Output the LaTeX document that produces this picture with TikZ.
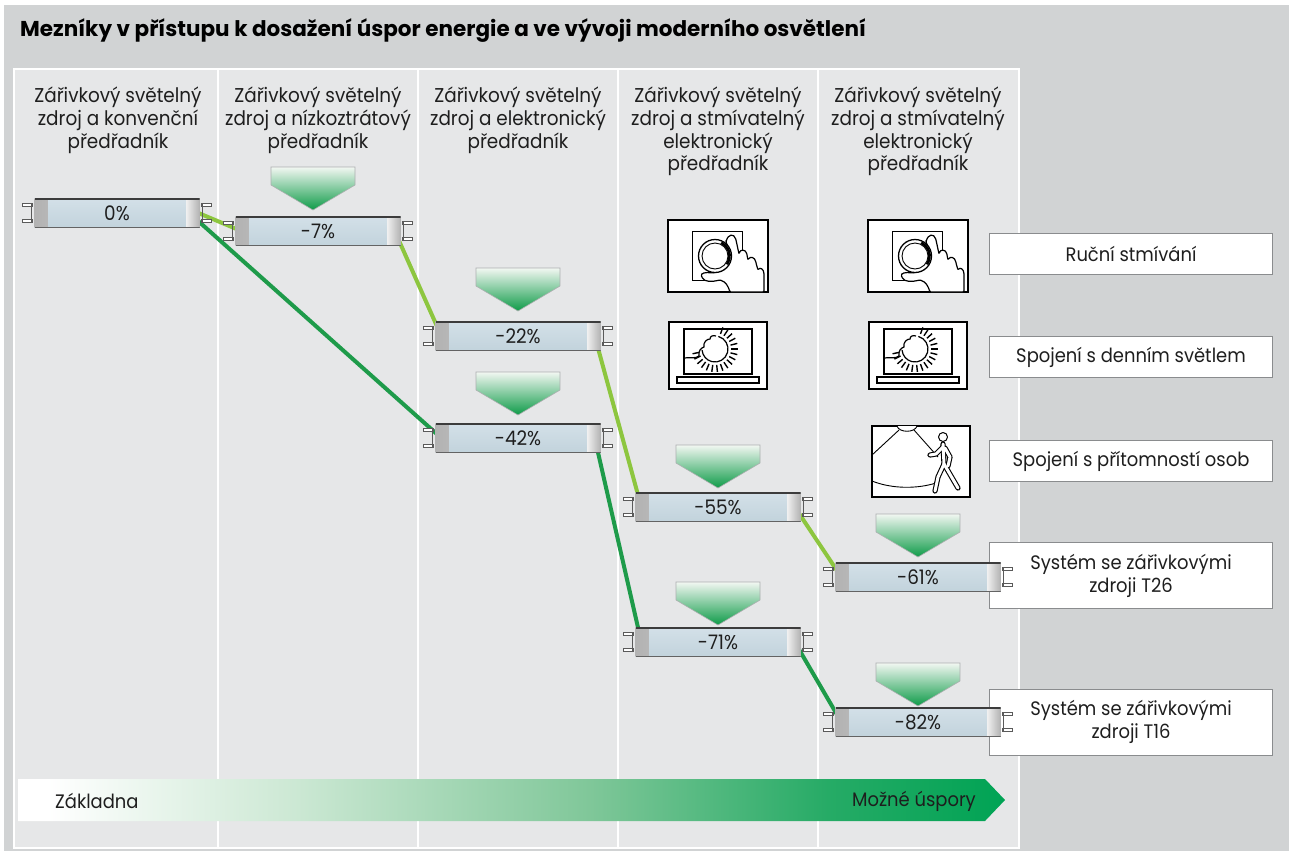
\documentclass[tikz,border=0pt]{standalone}
\usepackage{fontspec}
\setmainfont{Poppins}[FakeStretch=0.92]
\newfontfamily\titlefont{Poppins}[FakeStretch=1.0]
\usetikzlibrary{calc}
\pgfdeclarelayer{back}
\pgfdeclarelayer{lines}
\pgfsetlayers{back,lines,main}

\definecolor{outgray}{HTML}{D1D3D4}
\definecolor{panelgray}{HTML}{E6E7E8}
\definecolor{lgreen}{HTML}{8DC63F}
\definecolor{dgreen}{HTML}{1E9B4A}
\definecolor{tubeA}{HTML}{D3E0E8}
\definecolor{tubeB}{HTML}{F4F8FA}
\definecolor{tubeC}{HTML}{C2D3DC}
\definecolor{capdark}{HTML}{B2B2B2}
\definecolor{caplight}{HTML}{EEEEEE}
\definecolor{tubeedge}{HTML}{3C3C3C}
\definecolor{pincol}{HTML}{5A5A5A}
\definecolor{markA}{HTML}{F2F7F2}
\definecolor{markB}{HTML}{0E9B48}
\definecolor{boxedge}{HTML}{8A8C8E}
\definecolor{txt}{HTML}{1E1E1E}

\pgfdeclarehorizontalshading{savingsbar}{100bp}{%
 rgb(0bp)=(1,1,1); rgb(25bp)=(1,1,1); rgb(26.5bp)=(1,1,1);
 rgb(39bp)=(0.80,0.91,0.83); rgb(54bp)=(0.50,0.78,0.60);
 rgb(66bp)=(0.15,0.67,0.40); rgb(75bp)=(0,0.64,0.33); rgb(100bp)=(0,0.64,0.33)}

\newcommand{\hdrfont}{\fontsize{20}{22.7}\selectfont}
\newcommand{\lblfont}{\fontsize{19.5}{23}\selectfont}

\tikzset{
  tube/.style={rectangle, minimum width=165pt, minimum height=29pt, inner sep=0pt,
    top color=tubeA, middle color=tubeB, bottom color=tubeC, text=txt,
    font=\fontsize{20}{22}\selectfont,
    path picture={
      \fill[left color=capdark, right color=caplight]
        (path picture bounding box.north west) rectangle
        ([xshift=13pt]path picture bounding box.south west);
      \fill[left color=caplight, right color=capdark]
        ([xshift=-13pt]path picture bounding box.north east) rectangle
        (path picture bounding box.south east);
      \draw[tubeedge, line width=2pt]
        (path picture bounding box.north west) -- (path picture bounding box.north east);
      \draw[tubeedge!80, line width=1.6pt]
        (path picture bounding box.south west) -- (path picture bounding box.south east);
    }},
  pinbox/.style={fill=white, draw=pincol, line width=0.8pt},
  pinbase/.style={draw=pincol, line width=1.2pt},
  lightline/.style={lgreen, line width=4pt},
  darkline/.style={dgreen, line width=4pt},
  savemark/.style={top color=markA, bottom color=markB, draw=boxedge!70, line width=0.6pt},
  hdr/.style={anchor=north, align=center, text=txt, font=\hdrfont, inner sep=0pt},
  infobox/.style={rectangle, fill=white, draw=boxedge, line width=1pt,
    minimum width=283pt, align=center, text=txt, font=\lblfont},
  icon/.style={draw=black, line width=1.6pt, fill=white},
  iconthin/.style={draw=black, line width=0.9pt},
}

% a fluorescent tube with its two pin pairs
\newcommand{\lamp}[3]{%
  \node[tube] (#1) at (#2) {#3};
  \foreach \s in {-8,8}{%
    \draw[pinbox] ([yshift=\s pt-1.6pt,xshift=-2pt]#1.west) rectangle ([yshift=\s pt+1.6pt,xshift=-12pt]#1.west);
    \draw[pinbox] ([yshift=\s pt-1.6pt,xshift=2pt]#1.east) rectangle ([yshift=\s pt+1.6pt,xshift=12pt]#1.east);
  }
  \draw[pinbase] ([xshift=-2.5pt,yshift=-10pt]#1.west) -- ([xshift=-2.5pt,yshift=10pt]#1.west);
  \draw[pinbase] ([xshift=2.5pt,yshift=-10pt]#1.east) -- ([xshift=2.5pt,yshift=10pt]#1.east);
}

% green downward marker: centre x, top y
\newcommand{\savingmark}[2]{%
  \path[savemark] (#1-42,#2) -- (#1+42,#2) -- (#1+42,#2+18) -- (#1,#2+43) -- (#1-42,#2+18) -- cycle;
}

% manual dimmer pictogram, top-left corner given
\newcommand{\dimmericon}[1]{%
  \begin{scope}[shift={(#1)}]
    \path[icon] (0,0) rectangle (100,72);
    \draw[iconthin] (24,11) rectangle (74,60);
    \path[icon, line width=1.2pt, rounded corners=1pt]
      (58,22) .. controls (60,14) and (66,13) .. (68,20)
      -- (71,34) .. controls (72,29) and (78,29) .. (79,35)
      -- (80,40) .. controls (82,36) and (87,37) .. (88,43)
      -- (90,50) .. controls (92,47) and (96,49) .. (96,55)
      -- (96,72) -- (62,72)
      .. controls (60,66) and (58,62) .. (52,60)
      .. controls (44,62) and (36,62) .. (34,57)
      .. controls (32,53) and (38,52) .. (44,53)
      .. controls (52,52) and (60,46) .. (62,38)
      .. controls (63,32) and (60,27) .. (58,22) -- cycle;
    \path[icon, line width=1.3pt] (47,36) circle (16.5);
    \draw[iconthin] (47,36) circle (13);
    \draw[line width=2.6pt] (47,36) ++(-65:14.6) arc (-65:35:14.6);
  \end{scope}
}

% daylight pictogram, top-left corner given
\newcommand{\sunicon}[1]{%
  \begin{scope}[shift={(#1)}]
    \path[icon] (0,0) rectangle (98,67);
    \draw[iconthin, line width=1.3pt] (15,7) rectangle (83,52);
    \draw[iconthin, line width=1.3pt] (8,55) rectangle (90,61);
    \draw[line width=1.2pt] (46,27) ++(-75:13) arc (-75:175:13);
    \foreach \a in {-70,-56,...,175}{\draw[line width=1.4pt] (46,27) ++(\a:16) -- ++(\a:7);}
    \draw[line width=1.2pt] (15,36) .. controls (22,35) and (26,37) .. (30,34)
      .. controls (29,29) and (32,26) .. (35,25)
      .. controls (34,20) and (38,17) .. (41,17)
      .. controls (41,14) and (44,13) .. (47,14);
  \end{scope}
}

% occupancy pictogram, top-left corner given
\newcommand{\presenceicon}[1]{%
  \begin{scope}[shift={(#1)}]
    \path[icon] (0,0) rectangle (98,71);
    \draw[iconthin, fill=white] (25,0) .. controls (27,7) and (43,7) .. (45,0);
    \draw[iconthin] (27,4) -- (0,29);
    \draw[iconthin] (42,4) -- (66,31);
    \draw[iconthin] (0,55) .. controls (20,63) and (45,63) .. (64,57);
    \begin{scope}[line cap=round, line join=round]
      \foreach \w/\c in {5.2pt/black, 3pt/white}{%
        \draw[line width=\w, \c] (71,18) -- (72,38);
        \draw[line width=\w, \c] (71,21) -- (64,28) -- (58,29);
        \draw[line width=\w, \c] (73,22) -- (78,31) -- (76,40);
        \draw[line width=\w, \c] (72,38) -- (66,51) -- (63,65);
        \draw[line width=\w, \c] (72,38) -- (79,50) -- (86,62);
      }
      \draw[line width=1pt, fill=white] (71,11) circle (4.5);
    \end{scope}
  \end{scope}
}

\begin{document}
\begin{tikzpicture}[x=1pt, y=-1pt]
\useasboundingbox (0,0) rectangle (1292,855);

% frame and background
\begin{pgfonlayer}{back}
  \fill[white] (0,0) rectangle (1292,855);
  \fill[outgray] (4,5) rectangle (1289,851);
  \fill[panelgray] (14,69) rectangle (1019,848);
  \draw[white, line width=2pt] (14,69) rectangle (1019,848);
  \foreach \cx in {218,418,618,818}{\draw[white, line width=2pt] (\cx,69) -- (\cx,848);}
\end{pgfonlayer}

% title
\node[anchor=west, font=\titlefont\bfseries\fontsize{21.5}{24}\selectfont, text=black, inner sep=0pt] (title) at (20,31)
  {Mezníky v přístupu k dosažení úspor energie a ve vývoji moderního osvětlení};

% column headings
\node[hdr] (h1) at (118,87) {Zářivkový světelný\\zdroj a konvenční\\předřadník};
\node[hdr] (h2) at (318,87) {Zářivkový světelný\\zdroj a nízkoztrátový\\předřadník};
\node[hdr] (h3) at (518,87) {Zářivkový světelný\\zdroj a elektronický\\předřadník};
\node[hdr] (h4) at (718,87) {Zářivkový světelný\\zdroj a stmívatelný\\elektronický\\předřadník};
\node[hdr] (h5) at (918,87) {Zářivkový světelný\\zdroj a stmívatelný\\elektronický\\předřadník};

% savings bar
\shade[shading=savingsbar] (18,779) -- (985,779) -- (1005,800) -- (985,821) -- (18,821) -- cycle;
\node[anchor=west, text=txt, font=\lblfont, inner sep=0pt] (base) at (55,801) {Základna};
\node[anchor=east, text=txt, font=\lblfont, inner sep=0pt] (save) at (976,801) {Možné úspory};

% right-hand labels
\node[infobox, minimum height=41pt] (b1) at (1131,253.5) {Ruční stmívání};
\node[infobox, minimum height=41pt] (b2) at (1131,357) {Spojení s denním světlem};
\node[infobox, minimum height=41pt] (b3) at (1131,461) {Spojení s přítomností osob};
\node[infobox, minimum height=66pt] (b4) at (1131,575.5) {Systém se zářivkovými\\zdroji T26};
\node[infobox, minimum height=66pt] (b5) at (1131,722) {Systém se zářivkovými\\zdroji T16};

% pictograms
\dimmericon{668,220}
\dimmericon{868,220}
\sunicon{669,322}
\sunicon{869,322}
\presenceicon{872,426}

% markers
\savingmark{313}{167}
\savingmark{518}{268}
\savingmark{518}{372}
\savingmark{718}{445}
\savingmark{718}{582}
\savingmark{918}{514}
\savingmark{918}{663}

% tubes
\lamp{t0}{117,213}{0\%}
\lamp{t1}{318,231}{-7\%}
\lamp{t2}{518,336}{-22\%}
\lamp{t3}{518,438}{-42\%}
\lamp{t4}{718,507}{-55\%}
\lamp{t5}{718,642}{-71\%}
\lamp{t6}{918,577}{-61\%}
\lamp{t7}{918,722}{-82\%}

% savings paths
\begin{pgfonlayer}{lines}
  \draw[lightline] ([xshift=-6pt,yshift=2pt]t0.east) -- ([xshift=6pt]t1.west);
  \draw[lightline] ([xshift=-6pt]t1.east) -- ([xshift=6pt]t2.west);
  \draw[lightline] ([xshift=-6pt]t2.east) -- ([xshift=6pt]t4.west);
  \draw[lightline] ([xshift=-6pt]t4.east) -- ([xshift=6pt]t6.west);
  \draw[darkline] ([xshift=-6pt,yshift=-4pt]t0.east) -- ([xshift=6pt]t3.west);
  \draw[darkline] ([xshift=-6pt]t3.east) -- ([xshift=6pt]t5.west);
  \draw[darkline] ([xshift=-6pt]t5.east) -- ([xshift=6pt]t7.west);
\end{pgfonlayer}
\end{tikzpicture}
\end{document}
